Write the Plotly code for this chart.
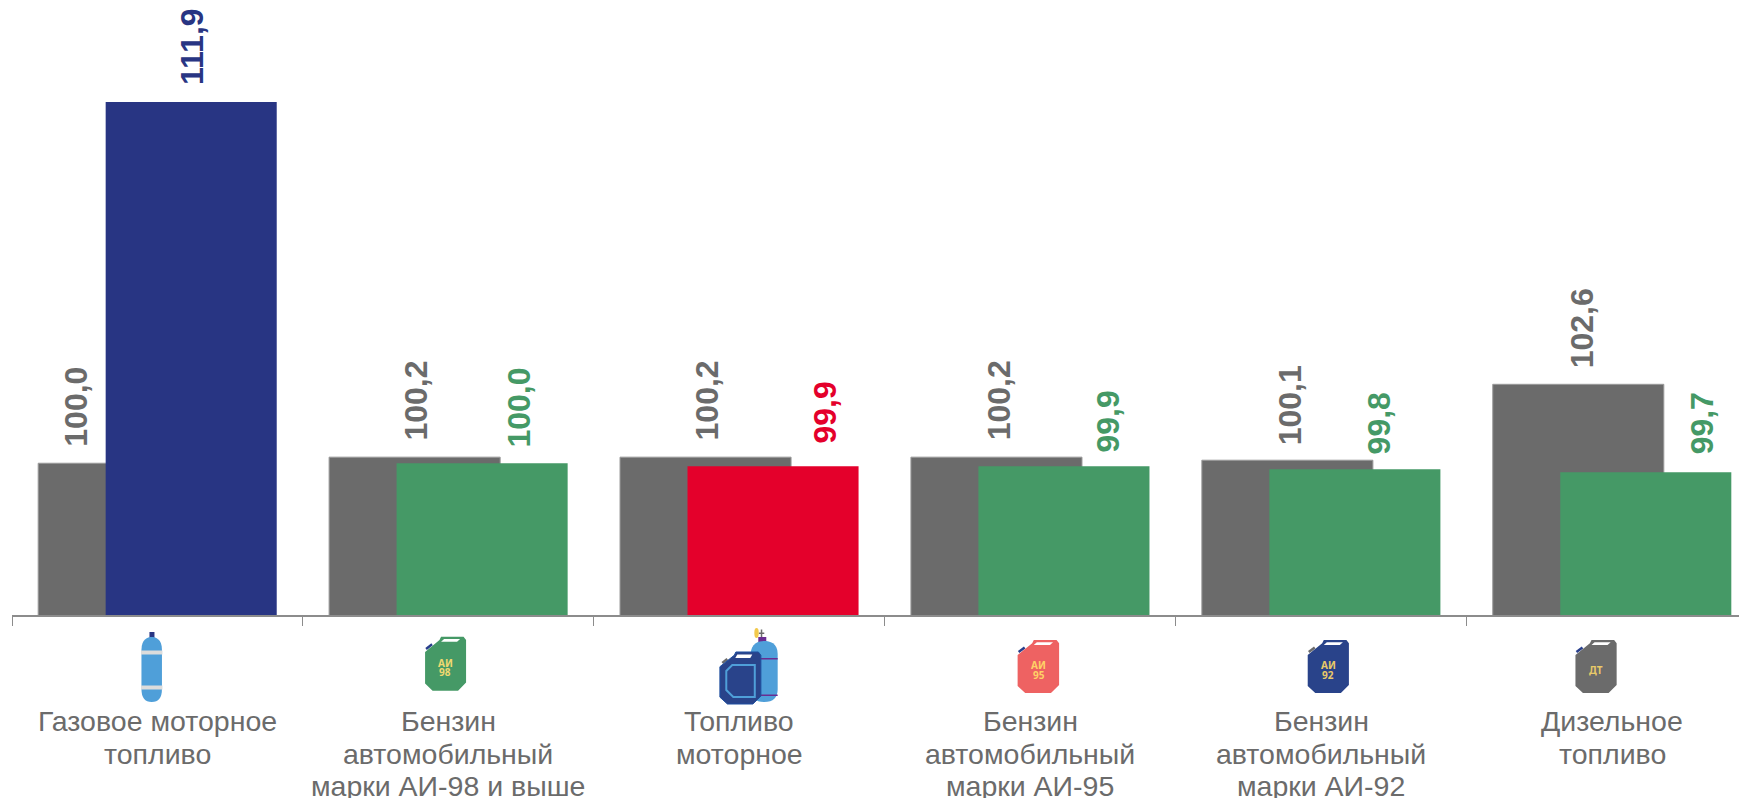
import plotly.graph_objects as go

categories = ["Газовое моторное<br>топливо",
              "Бензин<br>автомобильный<br>марки АИ-98 и выше",
              "Топливо<br>моторное",
              "Бензин<br>автомобильный<br>марки АИ-95",
              "Бензин<br>автомобильный<br>марки АИ-92",
              "Дизельное<br>топливо"]
previous_values = [100.0, 100.2, 100.2, 100.2, 100.1, 102.6]
current_values = [111.9, 100.0, 99.9, 99.9, 99.8, 99.7]

GRAY = "#6b6b6b"
BLUE = "#283583"
GREEN = "#459966"
RED = "#e4002b"
current_colors = [BLUE, GREEN, RED, GREEN, GREEN, GREEN]

# layout constants
W, H = 1739, 798
ML, MB = 11.5, 183
PW, PH = W - ML, H - MB
CAT_W = 291.0
BAR_W = 0.588
BAR_OFF = 0.116
LABEL_FONT = "Liberation Sans, Arial, sans-serif"
LINE_STEP = 32.7
FIRST_LINE_Y = 721

# label nudges: x shift from category centre, y shift from bar top (px)
prev_label_dx = [-81, -32, -32, -31, -31, -30]
prev_label_dy = [15, 15, 15, 15, 13, 14]
curr_label_dx = [35, 71, 86, 78, 58, 90]
curr_label_dy = [15, 14, 21, 12, 13, 16]


def fmt(v):
    return f"{v:.1f}".replace(".", ",")


def P(px, py):
    """page pixel -> paper coords"""
    return (px - ML) / PW, (PH - py) / PH


def path(points, close=True):
    parts = []
    for i, (x, y) in enumerate(points):
        a, b = P(x, y)
        parts.append(("M" if i == 0 else "L") + f"{a:.5f},{b:.5f}")
    return " ".join(parts) + (" Z" if close else "")


shapes = []


def add_poly(points, color, close=True, line=None, lw=0):
    shapes.append(dict(type="path", xref="paper", yref="paper", path=path(points, close),
                       fillcolor=color if close else "rgba(0,0,0,0)",
                       line=dict(color=line or color, width=lw), layer="above"))


def jerry_pts(x, y, w, h):
    sx, sy = w / 41.0, h / 53.0
    return [(x + a * sx, y + b * sy) for a, b in
            [(0, 15), (14.4, 3.3), (16, 0), (38.5, 0), (41, 3.3), (41, 45), (33, 53), (7.5, 53), (0, 46)]]


def jerrycan(x, y, w, h, color, spout):
    sx, sy = w / 41.0, h / 53.0
    add_poly([(x + 1 * sx, y + 12 * sy), (x + 7 * sx, y + 7.5 * sy)], spout, close=False, line=spout, lw=2.5)
    add_poly(jerry_pts(x, y, w, h), color)
    add_poly([(x + 16 * sx, y + 5 * sy), (x + 32 * sx, y + 5 * sy), (x + 35 * sx, y + 2.2 * sy), (x + 19 * sx, y + 2.2 * sy)],
             "#ffffff")


def cylinder(x0, x1, y0, y1, color):
    r = (x1 - x0) / 2.0
    d = 13
    a0, b0 = P(x0, y1 - d)
    a1, b1 = P(x0, y0 + d)
    c1, c2 = P(x0, y0 + 2)
    c3, c4 = P(x0 + r * 0.6, y0)
    m1, m2 = P(x0 + r, y0)
    c5, c6 = P(x1 - r * 0.6, y0)
    c7, c8 = P(x1, y0 + 2)
    e1, e2 = P(x1, y0 + d)
    f1, f2 = P(x1, y1 - d)
    g1, g2 = P(x1, y1)
    h1, h2 = P(x0 + r, y1)
    i1, i2 = P(x0, y1)
    p = (f"M{a0:.5f},{b0:.5f} L{a1:.5f},{b1:.5f} C{c1:.5f},{c2:.5f} {c3:.5f},{c4:.5f} {m1:.5f},{m2:.5f} "
         f"C{c5:.5f},{c6:.5f} {c7:.5f},{c8:.5f} {e1:.5f},{e2:.5f} L{f1:.5f},{f2:.5f} "
         f"Q{g1:.5f},{g2:.5f} {h1:.5f},{h2:.5f} Q{i1:.5f},{i2:.5f} {a0:.5f},{b0:.5f} Z")
    shapes.append(dict(type="path", xref="paper", yref="paper", path=p, fillcolor=color,
                       line=dict(width=0), layer="above"))


def rect(x0, y0, x1, y1, color):
    add_poly([(x0, y0), (x1, y0), (x1, y1), (x0, y1)], color)


CYL = "#4f9fd9"
# gas cylinder
rect(149, 632, 154, 640, BLUE)
cylinder(141, 161.5, 637, 702, CYL)
rect(140.5, 650.5, 162, 654.5, "#dcdcdc")
rect(140.5, 685.5, 162, 689.5, "#dcdcdc")

# AI-98, AI-95, AI-92, DT cans
jerrycan(424.7, 636.7, 41, 54, GREEN, "#283f8c")
jerrycan(1017.4, 640, 41.5, 53, "#ee6262", "#283f8c")
jerrycan(1307.6, 640, 41.2, 53, "#29438a", "#6b6b6b")
jerrycan(1575.4, 640, 41.2, 53, GRAY, "#283f8c")

# combined icon (motor fuel)
rect(758.5, 632.5, 764, 634, "#6b6b6b")
rect(760.5, 629.5, 762, 637, "#6b6b6b")
shapes.append(dict(type="circle", xref="paper", yref="paper",
                   x0=P(754, 0)[0], x1=P(758.5, 0)[0], y0=P(0, 638)[1], y1=P(0, 628)[1],
                   fillcolor="#f2c94c", line=dict(width=0), layer="above"))
rect(758, 637, 766, 643, "#6a2c91")
cylinder(750.5, 777.4, 641, 702, CYL)
rect(750.5, 658, 777.4, 659.5, "#6a2c91")
rect(750.5, 694.5, 777.4, 696, "#6a2c91")
add_poly([(722, 663), (727, 659)], "#6b6b6b", close=False, line="#6b6b6b", lw=2.5)
add_poly(jerry_pts(719.6, 652, 41, 52), "#29438a", line="#1e4fa0", lw=1)
add_poly([(735, 658), (750, 658), (752, 654.5), (737, 654.5)], "#ffffff")
add_poly([(732, 665), (754.5, 665), (754.5, 697), (733, 697), (726, 690), (726, 671)],
         "#29438a", line=CYL, lw=2)

annotations = []
for i, c in enumerate(categories):
    annotations.append(dict(x=c, y=previous_values[i], xref="x", yref="y", text=f"<b>{fmt(previous_values[i])}</b>",
                            textangle=-90, showarrow=False, xanchor="center", yanchor="bottom",
                            xshift=prev_label_dx[i], yshift=prev_label_dy[i],
                            font=dict(family=LABEL_FONT, size=32, color=GRAY)))
    annotations.append(dict(x=c, y=current_values[i], xref="x", yref="y", text=f"<b>{fmt(current_values[i])}</b>",
                            textangle=-90, showarrow=False, xanchor="center", yanchor="bottom",
                            xshift=curr_label_dx[i], yshift=curr_label_dy[i],
                            font=dict(family=LABEL_FONT, size=32, color=current_colors[i])))
    # category label, one annotation per line for the tight line spacing of the reference
    for j, line in enumerate(c.split("<br>")):
        annotations.append(dict(x=c, y=(PH - (FIRST_LINE_Y + j * LINE_STEP)) / PH, xref="x", yref="paper",
                                text=line, showarrow=False, xanchor="center", yanchor="middle",
                                font=dict(family=LABEL_FONT, size=28.5, color=GRAY)))

icon_texts = [("АИ", 444.8, 662.7, "#f0d870"), ("98", 444.8, 672.2, "#f0d870"),
              ("АИ", 1038.3, 665, "#ffd166"), ("95", 1038.3, 674.7, "#ffd166"),
              ("АИ", 1327.9, 665, "#e8c968"), ("92", 1327.9, 674.7, "#e8c968"),
              ("ДТ", 1596, 669.5, "#e8c968")]
for t, px, py, col in icon_texts:
    a, b = P(px, py)
    annotations.append(dict(x=a, y=b, xref="paper", yref="paper", text=f"<b>{t}</b>", showarrow=False,
                            xanchor="center", yanchor="middle",
                            font=dict(family="Noto Sans, sans-serif", size=10, color=col)))

fig = go.Figure()
fig.add_trace(go.Bar(x=categories, y=previous_values, width=BAR_W, offset=-BAR_OFF - BAR_W / 2,
                     marker=dict(color=GRAY, line=dict(color="#9a9a9a", width=1)), showlegend=False))
fig.add_trace(go.Bar(x=categories, y=current_values, width=BAR_W, offset=BAR_OFF - BAR_W / 2,
                     marker=dict(color=current_colors, line=dict(width=0)), showlegend=False))

fig.update_layout(
    width=W, height=H, autosize=False, barmode="overlay",
    margin=dict(l=ML, r=0, t=0, b=MB, pad=0),
    paper_bgcolor="#ffffff", plot_bgcolor="#ffffff",
    shapes=shapes, annotations=annotations,
    xaxis=dict(type="category", range=[-0.5, -0.5 + PW / CAT_W], tickson="boundaries",
               showline=True, linecolor="#8c8c8c", linewidth=1.5, showgrid=False, zeroline=False,
               ticks="outside", ticklen=9, tickwidth=1, tickcolor="#8c8c8c",
               showticklabels=False, automargin=False, fixedrange=True),
    yaxis=dict(visible=False, range=[95, 115.26], fixedrange=True),
)
fig.write_html("out.html", config=dict(displayModeBar=False),
               post_script="document.body.style.margin='0';document.body.style.overflow='hidden';")
